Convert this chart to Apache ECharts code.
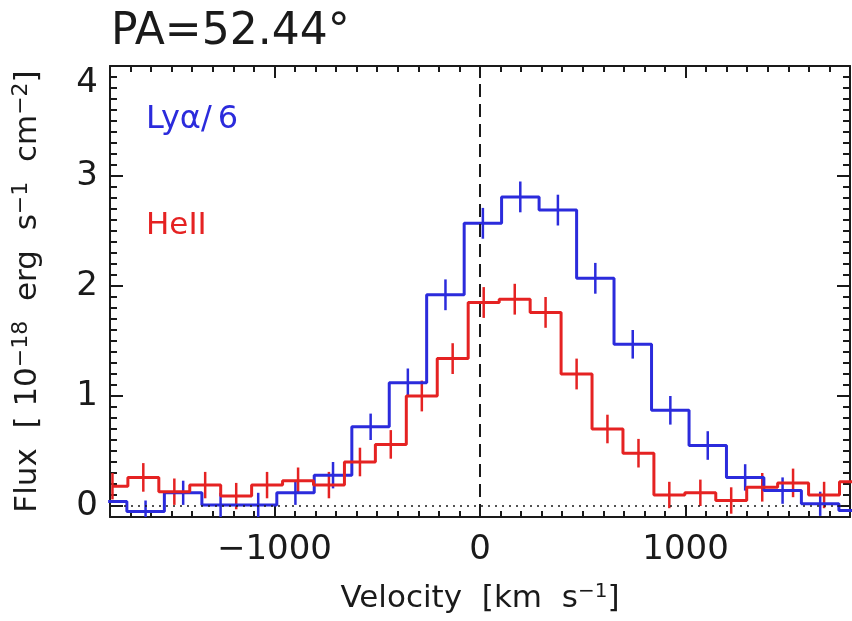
<!DOCTYPE html>
<html>
<head>
<meta charset="utf-8">
<script src="https://cdn.jsdelivr.net/npm/echarts@6/dist/echarts.min.js"></script>
<style>
  html, body { margin: 0; padding: 0; background: #fff; }
  #chart { width: 852px; height: 621px; }
</style>
</head>
<body>
<div id="chart"></div>
<script>
// Lyα (scaled by 1/6): bin centres [km/s], flux [1e-18 erg/s/cm2], 1σ errors
const lyaVelocity = [-1809, -1627, -1444, -1262, -1079, -898, -715, -532, -351, -168,
  14, 196, 379, 561, 743, 926, 1108, 1290, 1472, 1655, 1837];
const lyaFlux = [0.04, -0.05, 0.12, 0.01, 0.01, 0.12, 0.28, 0.72, 1.12, 1.92,
  2.57, 2.81, 2.69, 2.07, 1.47, 0.87, 0.55, 0.26, 0.14, 0.02, -0.04];
const lyaError = [0.10, 0.10, 0.11, 0.11, 0.11, 0.11, 0.12, 0.12, 0.13, 0.14,
  0.14, 0.14, 0.14, 0.14, 0.13, 0.13, 0.13, 0.12, 0.12, 0.11, 0.11];

// HeII: bin centres [km/s], flux, 1σ errors
const heiiVelocity = [-1788, -1638, -1487, -1337, -1186, -1036, -885, -735, -584, -434, -283, -133,
  18, 169, 319, 470, 620, 771, 921, 1072, 1222, 1373, 1523, 1674, 1824];
const heiiFlux = [0.18, 0.26, 0.13, 0.19, 0.09, 0.19, 0.23, 0.19, 0.40, 0.56, 1.00, 1.34,
  1.85, 1.88, 1.76, 1.20, 0.70, 0.48, 0.10, 0.12, 0.05, 0.17, 0.21, 0.10, 0.22];
const heiiError = [0.12, 0.13, 0.12, 0.12, 0.12, 0.12, 0.12, 0.12, 0.13, 0.13, 0.14, 0.14,
  0.14, 0.14, 0.14, 0.14, 0.13, 0.13, 0.12, 0.12, 0.12, 0.13, 0.13, 0.12, 0.12];

// Axis ticks
const velocityTicks = [-1000, 0, 1000];
const fluxTicks = [0, 1, 2, 3, 4];

const BLUE = '#2b2bdc';
const RED = '#e52222';
const INK = '#1a1a1a';
const FONT = 'DejaVu Sans';

const toPairs = (xs, ys) => xs.map((x, i) => [x, ys[i]]);
const toTriples = (xs, ys, es) => xs.map((x, i) => [x, ys[i], es[i]]);

function errorBars(color) {
  return function (params, api) {
    const x = api.value(0), y = api.value(1), e = api.value(2);
    const a = api.coord([x, y - e]);
    const b = api.coord([x, y + e]);
    return {
      type: 'line',
      shape: { x1: a[0], y1: a[1], x2: b[0], y2: b[1] },
      style: { stroke: color, lineWidth: 2.5 }
    };
  };
}

const frameLine = { show: true, onZero: false, lineStyle: { color: INK, width: 2 } };
const gridBox = { left: 110, right: 2, top: 66, bottom: 104 };

const majorX = (pos, labels) => ({
  type: 'value', gridIndex: 0, position: pos, min: -1800, max: 1800,
  axisLine: frameLine,
  axisTick: { show: true, inside: true, length: 12, customValues: velocityTicks,
    lineStyle: { color: INK, width: 2 } },
  axisLabel: labels ? {
    show: true, customValues: velocityTicks, margin: 16,
    fontFamily: FONT, fontSize: 34, color: INK,
    formatter: v => (v < 0 ? '\u2212' + Math.abs(v) : String(v))
  } : { show: false },
  splitLine: { show: false }
});
const minorX = pos => ({
  type: 'value', gridIndex: 1, position: pos, min: -1800, max: 1800, interval: 100,
  axisLine: { show: false, onZero: false },
  axisTick: { show: true, inside: true, length: 6, lineStyle: { color: INK, width: 2 } },
  axisLabel: { show: false }, splitLine: { show: false }
});
const majorY = (pos, labels) => ({
  type: 'value', gridIndex: 0, position: pos, min: -0.1, max: 4,
  axisLine: frameLine,
  axisTick: { show: true, inside: true, length: 13, customValues: fluxTicks,
    lineStyle: { color: INK, width: 2 } },
  axisLabel: labels ? {
    show: true, customValues: fluxTicks, margin: 12,
    fontFamily: FONT, fontSize: 34, color: INK,
    formatter: v => (v === 4 ? '{top|4}' : String(v)),
    rich: { top: { fontFamily: FONT, fontSize: 34, color: INK, padding: [34, 0, 0, 0] } }
  } : { show: false },
  splitLine: { show: false }
});
const minorY = pos => ({
  type: 'value', gridIndex: 1, position: pos, min: -0.1, max: 4, interval: 0.1,
  axisLine: { show: false, onZero: false },
  axisTick: { show: true, inside: true, length: 7, lineStyle: { color: INK, width: 2 } },
  axisLabel: { show: false }, splitLine: { show: false }
});

const xMain = majorX('bottom', true);
xMain.name = '{n|Velocity  [km  s}{s|\u22121}{n|]}';
xMain.nameLocation = 'middle';
xMain.nameGap = 65;
xMain.nameTextStyle = {
  rich: {
    n: { fontFamily: FONT, fontSize: 31, color: INK },
    s: { fontFamily: FONT, fontSize: 20, color: INK, padding: [0, 0, 14, 0] }
  }
};

const yMain = majorY('left', true);
yMain.name = '{n|Flux  [ 10}{s|\u221218}{n|  erg  s}{s|\u22121}{n|  cm}{s|\u22122}{n|]}';
yMain.nameLocation = 'middle';
yMain.nameGap = 64;
yMain.nameTextStyle = {
  rich: {
    n: { fontFamily: FONT, fontSize: 31, color: INK },
    s: { fontFamily: FONT, fontSize: 22, color: INK, padding: [0, 0, 14, 0] }
  }
};

const chart = echarts.init(document.getElementById('chart'), null, { renderer: 'canvas' });
chart.setOption({
  animation: false,
  backgroundColor: '#fff',
  title: {
    text: 'PA=52.44\u00b0', left: 106, top: 6,
    textStyle: { fontFamily: FONT, fontSize: 44, fontWeight: 'normal', color: INK }
  },
  grid: [Object.assign({}, gridBox), Object.assign({}, gridBox)],
  xAxis: [xMain, majorX('top', false), minorX('bottom'), minorX('top')],
  yAxis: [yMain, majorY('right', false), minorY('left'), minorY('right')],
  graphic: [
    { type: 'text', left: 146, top: 104,
      style: {
        text: '{a|Ly\u03b1/}{b|6}',
        rich: {
          a: { fontFamily: FONT, fontSize: 32, fill: BLUE },
          b: { fontFamily: FONT, fontSize: 32, fill: BLUE, padding: [0, 0, 0, 6] }
        }
      } },
    { type: 'text', left: 146, top: 210,
      style: { text: 'HeII', fill: RED, fontFamily: FONT, fontSize: 31 } }
  ],
  series: [
    {
      name: 'Ly\u03b1/6', type: 'line', step: 'middle', xAxisIndex: 0, yAxisIndex: 0,
      data: toPairs(lyaVelocity, lyaFlux), symbol: 'none',
      lineStyle: { color: BLUE, width: 3 },
      markLine: {
        silent: true, symbol: 'none', label: { show: false },
        data: [
          { xAxis: 0, lineStyle: { color: INK, width: 2, type: [13, 7] } },
          { yAxis: 0, lineStyle: { color: INK, width: 1.5, type: [2, 5] } }
        ]
      }
    },
    {
      name: 'Ly\u03b1 error', type: 'custom', xAxisIndex: 0, yAxisIndex: 0, clip: true,
      data: toTriples(lyaVelocity, lyaFlux, lyaError), renderItem: errorBars(BLUE)
    },
    {
      name: 'HeII', type: 'line', step: 'middle', xAxisIndex: 0, yAxisIndex: 0,
      data: toPairs(heiiVelocity, heiiFlux), symbol: 'none',
      lineStyle: { color: RED, width: 3 }
    },
    {
      name: 'HeII error', type: 'custom', xAxisIndex: 0, yAxisIndex: 0, clip: true,
      data: toTriples(heiiVelocity, heiiFlux, heiiError), renderItem: errorBars(RED)
    }
  ]
});
</script>
</body>
</html>
